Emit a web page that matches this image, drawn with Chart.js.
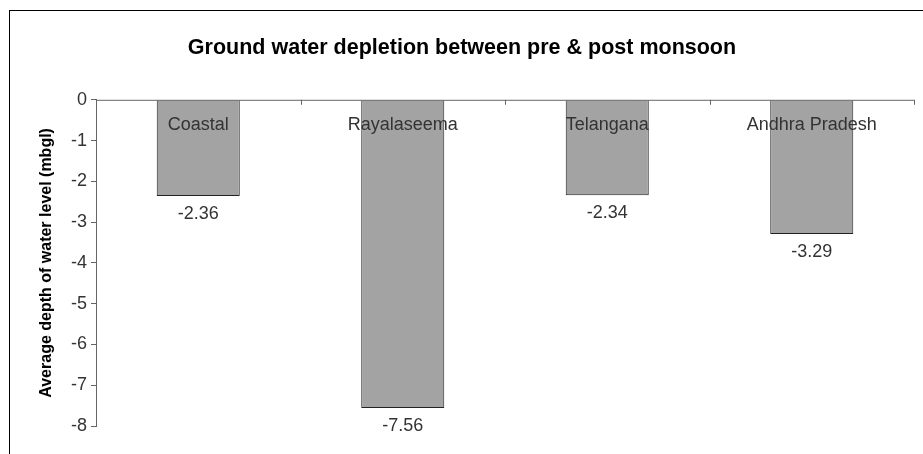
<!DOCTYPE html>
<html>
<head>
<meta charset="utf-8">
<script src="https://cdn.jsdelivr.net/npm/chart.js@4"></script>
<style>
  html, body { margin: 0; padding: 0; background: #fff; }
  #wrap { position: relative; width: 923px; height: 454px; }
  #frame { position: absolute; left: 9px; top: 10px; right: 0; bottom: 0; border-top: 1px solid #000; border-left: 1px solid #000; }
  #chart { position: absolute; left: 0; top: 0; }
</style>
</head>
<body>
<div id="wrap">
  <div id="frame"></div>
  <canvas id="chart" width="923" height="454"></canvas>
</div>
<script>
// data
var regions = ["Coastal", "Rayalaseema", "Telangana", "Andhra Pradesh"];
var depletion = [-2.36, -7.56, -2.34, -3.29];
var yTicks = [0, -1, -2, -3, -4, -5, -6, -7, -8];

var fontName = "'Liberation Sans', Arial, sans-serif";

// category names inside the plot, value under each bar, ticks pointing down from the zero line
var barText = {
    id: 'barText',
    afterDatasetsDraw: function(chart) {
        var ctx = chart.ctx;
        var x = chart.scales.x, y = chart.scales.y;
        var y0 = y.getPixelForValue(0);
        ctx.save();

        ctx.strokeStyle = '#666';
        ctx.lineWidth = 1;
        ctx.beginPath();
        ctx.moveTo(x.left, y0 + 0.5);
        ctx.lineTo(x.right, y0 + 0.5);
        for (var i = 0; i <= regions.length; i++) {
            var bx = Math.round(x.getPixelForValue(i - 0.5)) + 0.5;
            ctx.moveTo(bx, y0);
            ctx.lineTo(bx, y0 + 5);
        }
        ctx.stroke();

        ctx.font = '18px ' + fontName;
        ctx.fillStyle = '#333';
        ctx.textAlign = 'center';
        ctx.textBaseline = 'middle';
        var meta = chart.getDatasetMeta(0);
        for (var j = 0; j < regions.length; j++) {
            var cx = x.getPixelForValue(j);
            ctx.fillText(regions[j], cx, y0 + 25);
            ctx.fillText(depletion[j].toFixed(2), meta.data[j].x, y.getPixelForValue(depletion[j]) + 18);
        }
        ctx.restore();
    }
};

new Chart(document.getElementById('chart').getContext('2d'), {
    type: 'bar',
    data: {
        labels: regions,
        datasets: [{
            data: depletion,
            backgroundColor: '#a3a3a3',
            borderColor: '#222',
            borderWidth: 1,
            borderSkipped: 'start',
            categoryPercentage: 1,
            barPercentage: 0.406
        }]
    },
    options: {
        responsive: false,
        animation: false,
        layout: { padding: { left: 10, top: 10, right: 9, bottom: 28 } },
        plugins: {
            legend: { display: false },
            tooltip: { enabled: false },
            title: {
                display: true,
                text: 'Ground water depletion between pre & post monsoon',
                color: '#000',
                font: { family: fontName, size: 21.5, weight: 'bold' },
                padding: { top: 25, bottom: 39 }
            }
        },
        scales: {
            x: { display: false },
            y: {
                min: -8,
                max: 0,
                afterBuildTicks: function(scale) {
                    scale.ticks = yTicks.map(function(v) { return { value: v }; });
                },
                afterFit: function(scale) { scale.width = 86; },
                border: { display: true, color: '#666', width: 1 },
                grid: { drawOnChartArea: false, drawTicks: true, tickLength: 5, color: '#666' },
                ticks: {
                    color: '#333',
                    padding: 4,
                    font: { family: fontName, size: 18 }
                },
                title: {
                    display: true,
                    text: 'Average depth of water level (mbgl)',
                    color: '#000',
                    font: { family: fontName, size: 16, weight: 'bold' },
                    padding: { top: 27, bottom: 0 }
                }
            }
        }
    },
    plugins: [barText]
});
</script>
</body>
</html>
